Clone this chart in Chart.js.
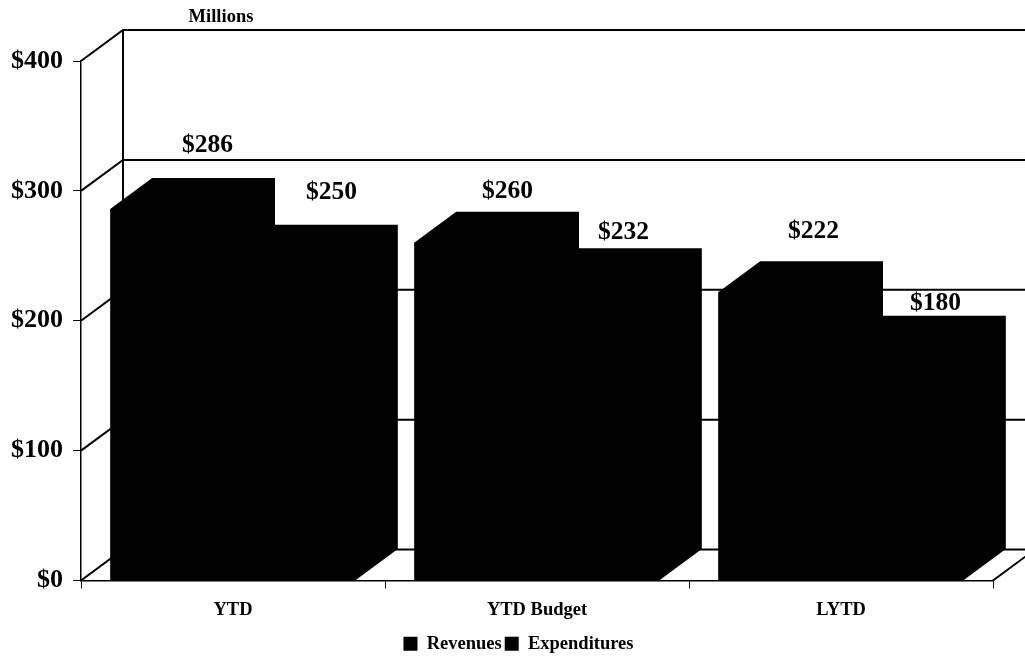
<!DOCTYPE html>
<html>
<head>
<meta charset="utf-8">
<style>
    html, body { margin: 0; background: #fff; }
    canvas { display: block; }
</style>
<script src="https://cdn.jsdelivr.net/npm/chart.js@4"></script>
</head>
<body>
<canvas id="grafico" width="1025" height="657"></canvas>
<script>
const categorias = ["YTD", "YTD Budget", "LYTD"];
const revenues = [286, 260, 222];
const expenditures = [250, 232, 180];
const yTicks = [0, 100, 200, 300, 400];

// nudges for the value labels, they were placed by hand in the original
const labelNudge = [
    [[36, -64], [32, -51], [34, -61]],
    [[37, -63], [25, -47], [33, -43]]
];

const FONTE = '"Liberation Serif", "Times New Roman", serif';
const DX = 42;
const DY = 31;

const fundo3d = {
    id: "fundo3d",
    afterLayout(chart) {
        // the y labels are clipped to the axis box, so open it to the left edge
        chart.scales.y.left = 0;
    },
    beforeDatasetsDraw(chart) {
        const { ctx, chartArea, scales } = chart;
        const y = scales.y;

        // back wall and left wall lines
        ctx.save();
        ctx.strokeStyle = "#000";
        ctx.lineWidth = 2;
        yTicks.forEach(v => {
            const py = y.getPixelForValue(v);
            ctx.beginPath();
            ctx.moveTo(chartArea.left, py);
            ctx.lineTo(chartArea.left + DX, py - DY);
            ctx.lineTo(chart.width, py - DY);
            ctx.stroke();
        });
        ctx.beginPath();
        ctx.moveTo(chartArea.left + DX, y.getPixelForValue(400) - DY);
        ctx.lineTo(chartArea.left + DX, y.getPixelForValue(0) - DY);
        ctx.stroke();
        ctx.beginPath();
        ctx.moveTo(chartArea.right, chartArea.bottom);
        ctx.lineTo(chartArea.right + DX, chartArea.bottom - DY);
        ctx.stroke();

        // depth of the bars
        ctx.fillStyle = "#000";
        chart.data.datasets.forEach((ds, i) => {
            chart.getDatasetMeta(i).data.forEach(bar => {
                const l = bar.x - bar.width / 2;
                const r = bar.x + bar.width / 2;
                ctx.beginPath();
                ctx.moveTo(l, bar.y);
                ctx.lineTo(l + DX, bar.y - DY);
                ctx.lineTo(r + DX, bar.y - DY);
                ctx.lineTo(r + DX, bar.base - DY);
                ctx.lineTo(r, bar.base);
                ctx.closePath();
                ctx.fill();
            });
        });
        ctx.restore();
    },
    afterDatasetsDraw(chart) {
        const { ctx } = chart;
        ctx.save();
        ctx.fillStyle = "#000";
        ctx.textAlign = "center";
        ctx.textBaseline = "middle";
        ctx.font = "bold 18.5px " + FONTE;
        ctx.fillText("Millions", 221, 17);

        ctx.font = "bold 25.5px " + FONTE;
        chart.data.datasets.forEach((ds, i) => {
            chart.getDatasetMeta(i).data.forEach((bar, j) => {
                const n = labelNudge[i][j];
                ctx.fillText("$" + ds.data[j], bar.x + n[0], bar.y + n[1]);
            });
        });
        ctx.restore();
    }
};

new Chart(document.getElementById("grafico"), {
    type: "bar",
    data: {
        labels: categorias,
        datasets: [
            { label: "Revenues", data: revenues, backgroundColor: "#000", borderWidth: 0, categoryPercentage: 0.808, barPercentage: 1 },
            { label: "Expenditures", data: expenditures, backgroundColor: "#000", borderWidth: 0, categoryPercentage: 0.808, barPercentage: 1 }
        ]
    },
    options: {
        responsive: false,
        animation: false,
        events: [],
        layout: { padding: { left: 44, right: 32, top: 61, bottom: -6 } },
        plugins: {
            title: { display: false },
            tooltip: { enabled: false },
            legend: {
                display: true,
                position: "bottom",
                labels: {
                    color: "#000",
                    boxWidth: 14,
                    boxHeight: 14,
                    padding: 3,
                    font: { family: FONTE, size: 18.5, weight: "bold" }
                }
            }
        },
        scales: {
            x: {
                afterFit(scale) { scale.height = 51; },
                grid: { drawOnChartArea: false, color: "#000", tickLength: 8, lineWidth: 1 },
                border: { color: "#000", width: 1.5 },
                ticks: {
                    color: "#000",
                    padding: 11,
                    maxRotation: 0,
                    font: { family: FONTE, size: 18.5, weight: "bold" }
                }
            },
            y: {
                min: 0,
                max: 400,
                afterFit(scale) { scale.width = 37; },
                afterBuildTicks(scale) { scale.ticks = yTicks.map(v => ({ value: v })); },
                grid: { drawOnChartArea: false, color: "#000", tickLength: 8, lineWidth: 1 },
                border: { color: "#000", width: 1.5 },
                ticks: {
                    color: "#000",
                    padding: 10,
                    font: { family: FONTE, size: 26, weight: "bold" },
                    callback: v => "$" + v
                }
            }
        }
    },
    plugins: [fundo3d]
});
</script>
</body>
</html>
